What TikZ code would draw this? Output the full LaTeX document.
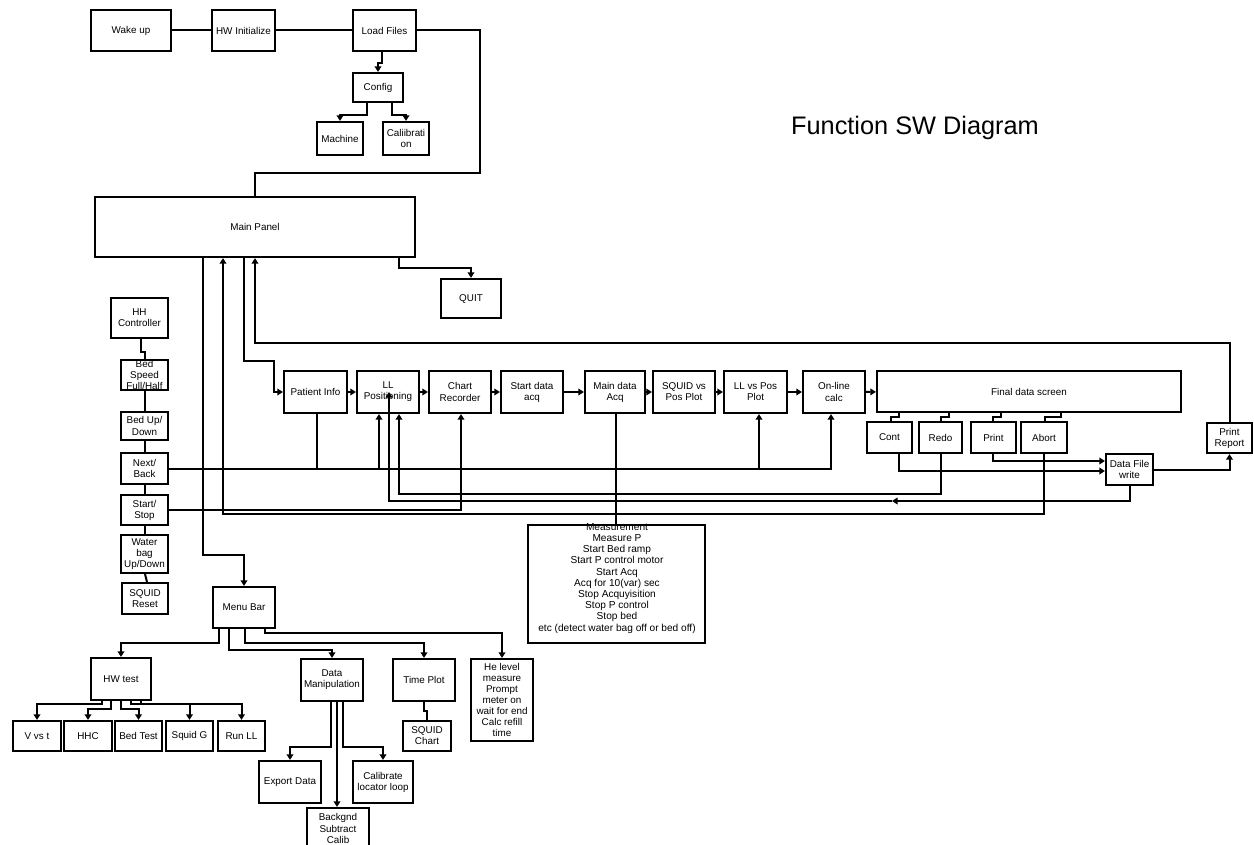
\documentclass[tikz,border=0pt]{standalone}
\usepackage{fontspec}
\setmainfont{Liberation Sans}
\usetikzlibrary{arrows.meta}
\tikzset{
  boxst/.style={draw, line width=1.6pt, inner sep=0pt, rectangle},
  txt/.style={font=\fontsize{7.4}{8.3}\selectfont, align=center, inner sep=0pt},
  conn/.style={line width=1.5pt},
  arr/.style={conn, -{Triangle[length=4.2pt,width=5pt]}},
}
\newcommand\swframe[5]{%
  \node[boxst, minimum width={(#4-#2)*0.75pt}, minimum height={(#5-#3)*0.75pt}] (#1) at ({(#2+#4)/2},{(#3+#5)/2}) {};}
\newcommand\swbox[6]{%
  \swframe{#1}{#2}{#3}{#4}{#5}%
  \node[txt] (#1-t) at (#1.center) {#6};}
\begin{document}
\begin{tikzpicture}[x=0.75pt,y=-0.75pt]
\fill[white] (0,0) rectangle (1254,845);
\useasboundingbox (0,0) rectangle (1254,845);

% boxes
\swbox{wake}{91}{10}{171}{51}{Wake up}
\swbox{hwinit}{212}{10}{275}{51}{HW Initialize}
\swbox{load}{353}{10}{416}{51}{Load Files}
\swbox{config}{353}{73}{403}{102}{Config}
\swbox{machine}{317}{122}{363}{155}{Machine}
\swbox{calib}{383}{122}{429}{155}{Caliibrati\\on}
\swbox{main}{95}{197}{415}{257}{Main Panel}
\swbox{quit}{441}{279}{501}{318}{QUIT}
\swbox{hhc}{111}{298}{168}{338}{HH\\Controller}
\swframe{bedspeed}{121}{360}{168}{390}
\begin{scope}
  \clip (bedspeed.south west) rectangle (bedspeed.north east);
  \node[txt] (bedspeed-t) at (bedspeed.center) {Bed\\Speed\\Full/Half};
\end{scope}
\swbox{bedup}{121}{412}{168}{440}{Bed Up/\\Down}
\swbox{nextback}{121}{453}{168}{484}{Next/\\Back}
\swbox{startstop}{121}{495}{168}{525}{Start/\\Stop}
\swbox{water}{121}{535}{168}{573}{Water\\bag\\Up/Down}
\swbox{squidreset}{122}{583}{168}{614}{SQUID\\Reset}
\swbox{patient}{284}{371}{347}{413}{Patient Info}
\swbox{llpos}{357}{371}{419}{413}{LL\\Positioning}
\swbox{chart}{429}{371}{491}{413}{Chart\\Recorder}
\swbox{startacq}{501}{371}{563}{413}{Start data\\acq}
\swbox{mainacq}{585}{371}{645}{413}{Main data\\Acq}
\swbox{squidvs}{653}{371}{715}{413}{SQUID vs\\Pos Plot}
\swbox{llvs}{724}{371}{787}{413}{LL vs Pos\\Plot}
\swbox{online}{803}{371}{865}{413}{On-line\\calc}
\swbox{fds}{877}{371}{1181}{412}{Final data screen}
\swbox{cont}{867}{422}{912}{453}{Cont}
\swbox{redo}{919}{422}{962}{453}{Redo}
\swbox{print}{971}{422}{1016}{453}{Print}
\swbox{abort}{1021}{422}{1067}{453}{Abort}
\swbox{datafile}{1106}{454}{1153}{485}{Data File\\write}
\swbox{printrep}{1207}{423}{1252}{453}{Print\\Report}
\swframe{meas}{528}{525}{705}{643}
\begin{scope}
  \clip (meas.south west) rectangle (meas.north east);
  \node[txt, font=\fontsize{7.6}{8.4}\selectfont, anchor=north] (meas-t) at (617,523)
   {Measurement\\Measure P\\Start Bed ramp\\Start P control motor\\Start Acq\\Acq for 10(var) sec\\Stop Acquyisition\\Stop P control\\Stop bed\\etc (detect water bag off or bed off)};
\end{scope}
\swbox{menubar}{213}{587}{275}{628}{Menu Bar}
\swbox{hwtest}{91}{658}{151}{700}{HW test}
\swbox{datamanip}{301}{659}{363}{701}{Data\\Manipulation}
\swbox{timeplot}{393}{659}{455}{701}{Time Plot}
\swbox{helevel}{471}{659}{533}{741}{He level\\measure\\Prompt\\meter on\\wait for end\\Calc refill\\time}
\swbox{squidchart}{403}{721}{451}{751}{SQUID\\Chart}
\swbox{vvst}{13}{721}{61}{751}{V vs t}
\swbox{hhctest}{64}{721}{112}{751}{HHC}
\swbox{bedtest}{115}{721}{162}{751}{Bed Test}
\swbox{squidg}{166}{721}{213}{751}{Squid G}
\swbox{runll}{218}{721}{265}{751}{Run LL}
\swbox{export}{259}{761}{321}{803}{Export Data}
\swbox{calibrate}{353}{761}{413}{803}{Calibrate\\locator loop}
\swbox{backgnd}{307}{808}{369}{849}{Backgnd\\Subtract\\Calib}

\node[font=\fontsize{19}{22}\selectfont, inner sep=0pt] (title) at (915,128) {Function SW Diagram};

% connectors: start-up chain
\draw[conn] (wake) -- (hwinit);
\draw[conn] (hwinit) -- (load);
\draw[conn] (load.east) -| (480,173) -| (main);
\draw[arr] (load.south -| 382,0) -- ++(0,11) -| (config);
\draw[arr] (config.south -| 367,0) -- ++(0,12) -| (machine);
\draw[arr] (config.south -| 392,0) -- ++(0,12) -| (calib);
\draw[arr] (main.south -| 399,0) -- ++(0,10) -| (quit);

% hand controller column
\draw[conn] (hhc.south -| 141,0) -- ++(0,13) -| (bedspeed);
\draw[conn] (bedspeed) -- (bedup);
\draw[conn] (bedup) -- (nextback);
\draw[conn] (nextback) -- (startstop);
\draw[conn] (startstop) -- (water);
\draw[conn] (water.south -| 145,0) -- (squidreset.north -| 147,0);

% next/back and start/stop lines
\draw[arr] (nextback.east) -| (online.south -| 831,0);
\draw[conn] (patient.south -| 317,0) -- (nextback.east -| 317,0);
\draw[arr] (nextback.east -| 379,0) -- (llpos.south -| 379,0);
\draw[arr] (nextback.east -| 759,0) -- (llvs.south -| 759,0);
\draw[arr] (startstop.east) -| (chart.south -| 461,0);

% main flow
\draw[arr] (main.south -| 244,0) |- (274,361) |- (patient.west);
\draw[arr] (patient) -- (llpos);
\draw[arr] (llpos) -- (chart);
\draw[arr] (chart) -- (startacq);
\draw[arr] (startacq) -- (mainacq);
\draw[arr] (mainacq) -- (squidvs);
\draw[arr] (squidvs) -- (llvs);
\draw[arr] (llvs) -- (online);
\draw[arr] (online) -- (fds);
\draw[conn] (mainacq.south -| 616,0) -- (meas.north -| 616,0);

% final data screen choices
\draw[conn] (fds.south -| 899,0) -- ++(0,4) -| (cont.north -| 891,0);
\draw[conn] (fds.south -| 949,0) -- ++(0,4) -| (redo.north -| 941,0);
\draw[conn] (fds.south -| 1001,0) -- ++(0,4) -| (print.north -| 993,0);
\draw[conn] (fds.south -| 1061,0) -- ++(0,4) -| (abort.north -| 1045,0);
\draw[arr] (cont.south -| 899,0) |- (datafile.west |- 0,471);
\draw[arr] (print.south -| 993,0) |- (datafile.west |- 0,461);
\draw[arr] (datafile.east) -| (printrep);
\draw[arr] (printrep.north) |- (main.south |- 0,343) -- (main.south);
\draw[arr] (redo.south) -- (redo.south |- 0,494) -| (llpos.south -| 399,0);
\coordinate (dfmid) at (892,501);
\draw[arr] (datafile.south) |- (dfmid);
\draw[arr] (dfmid) -| (llpos.center -| 389,0);
\draw[arr] (abort.south) |- (223,514) -- (main.south -| 223,0);

% menu bar
\draw[arr] (main.south -| 203,0) |- (244,555) -- (menubar);
\draw[arr] (menubar.south -| 219,0) -- ++(0,14) -| (hwtest);
\draw[arr] (menubar.south -| 229,0) -- ++(0,21) -| (datamanip);
\draw[arr] (menubar.south -| 245,0) -- ++(0,14) -| (timeplot);
\draw[arr] (menubar.south -| 265,0) -- ++(0,4) -| (helevel);

% hw tests
\draw[arr] (hwtest.south -| 102,0) -- ++(0,3) -| (vvst);
\draw[arr] (hwtest.south -| 111,0) -- ++(0,8) -| (hhctest);
\draw[arr] (hwtest.south -| 121,0) -- ++(0,8) -| (bedtest);
\draw[arr] (hwtest.south -| 131,0) -- ++(0,3) -| (squidg);
\draw[arr] (hwtest.south -| 141,0) -- ++(0,3) -| (runll);

% time plot / data manipulation
\draw[conn] (timeplot.south) -- ++(0,9) -| (squidchart);
\draw[arr] (datamanip.south -| 331,0) -- ++(0,45) -| (export);
\draw[arr] (datamanip.south -| 337,0) -- (backgnd.north -| 337,0);
\draw[arr] (datamanip.south -| 343,0) -- ++(0,45) -| (calibrate);
\end{tikzpicture}
\end{document}
